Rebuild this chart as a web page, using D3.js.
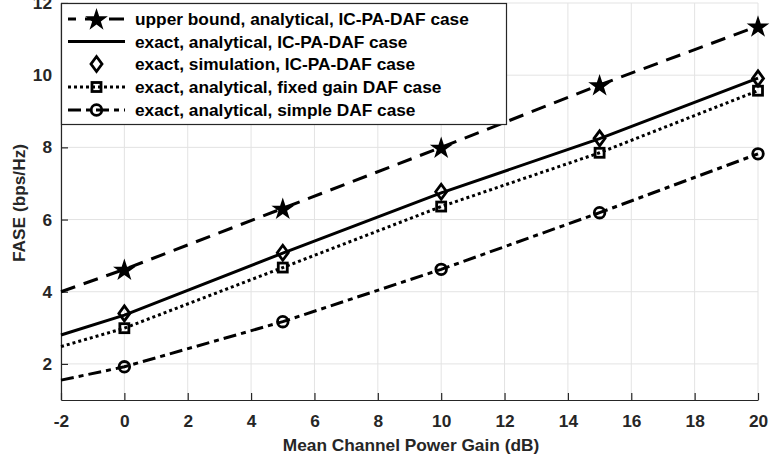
<!DOCTYPE html>
<html><head><meta charset="utf-8">
<script src="https://cdn.jsdelivr.net/npm/d3@7"></script>
<style>body{margin:0;background:#fff}svg{display:block}</style>
</head><body><svg id="c" width="771" height="463"></svg>
<script>
const xTicks = [-2,0,2,4,6,8,10,12,14,16,18,20];
const yTicks = [2,4,6,8,10,12];
const lineX = [-2,0,5,10,15,20];
const markX = [0,5,10,15,20];
const upperLine = [4.0,4.62,6.31,8.0,9.73,11.36];
const exactLine = [2.80,3.35,5.07,6.74,8.24,9.92];
const simMarks = [3.40,5.08,6.77,8.25,9.91];
const fixedLine = [2.48,2.99,4.67,6.36,7.85,9.57];
const simpleLine = [1.55,1.92,3.17,4.62,6.19,7.82];
const legendLabels = ["upper bound, analytical, IC-PA-DAF case","exact, analytical, IC-PA-DAF case","exact, simulation, IC-PA-DAF case","exact, analytical, fixed gain DAF case","exact, analytical, simple DAF case"];

const FONT = "Liberation Sans";
const FS = 17.3;
const svg = d3.select("#c");
const x = d3.scaleLinear().domain([-2,20]).range([61,758]);
const y = d3.scaleLinear().domain([1,12]).range([400,3]);
const axc = "#262626";

// grid
svg.append("g").selectAll("line").data(xTicks).join("line")
  .attr("x1",d=>x(d)).attr("x2",d=>x(d)).attr("y1",y(1)).attr("y2",y(12))
  .attr("stroke","#e3e3e3").attr("stroke-width",1);
svg.append("g").selectAll("line").data(yTicks).join("line")
  .attr("x1",x(-2)).attr("x2",x(20)).attr("y1",d=>y(d)).attr("y2",d=>y(d))
  .attr("stroke","#e3e3e3").attr("stroke-width",1);

// axes
const fmt = d => String(d);
const xa = svg.append("g").attr("transform",`translate(0,${y(1)})`)
  .call(d3.axisBottom(x).tickValues(xTicks).tickSizeInner(-7).tickSizeOuter(0).tickPadding(15).tickFormat(fmt));
const ya = svg.append("g").attr("transform",`translate(${x(-2)},0)`)
  .call(d3.axisLeft(y).tickValues(yTicks).tickSizeInner(-7).tickSizeOuter(0).tickPadding(9).tickFormat(fmt));
[xa,ya].forEach(a=>{
  a.attr("font-family",FONT).attr("font-size",FS).attr("font-weight","bold");
  a.select(".domain").attr("stroke",axc).attr("stroke-width",1.2);
  a.selectAll(".tick line").attr("stroke",axc).attr("stroke-width",1.2);
  a.selectAll(".tick text").attr("fill",axc);
});

svg.append("text").attr("x",411).attr("y",451).attr("text-anchor","middle")
  .attr("font-family",FONT).attr("font-size",FS).attr("font-weight","bold")
  .attr("fill",axc).text("Mean Channel Power Gain (dB)");
svg.append("text").attr("transform","translate(25,203) rotate(-90)").attr("text-anchor","middle")
  .attr("font-family",FONT).attr("font-size",FS).attr("font-weight","bold")
  .attr("fill",axc).text("FASE (bps/Hz)");

// markers
const starPath = d3.symbol(d3.symbolStar, 160)();
function drawMarker(g, type, cx, cy){
  if(type==="star") g.append("path").attr("d",starPath).attr("transform",`translate(${cx},${cy+1})`).attr("fill","#000");
  else if(type==="diamond") g.append("path").attr("d",`M0,-7.5L5.5,0L0,7.5L-5.5,0Z`).attr("transform",`translate(${cx},${cy})`).attr("fill","none").attr("stroke","#000").attr("stroke-width",2.8);
  else if(type==="square") g.append("rect").attr("x",cx-4.5).attr("y",cy-4.5).attr("width",9).attr("height",9).attr("fill","none").attr("stroke","#000").attr("stroke-width",2.8);
  else if(type==="circle") g.append("circle").attr("cx",cx).attr("cy",cy).attr("r",5.3).attr("fill","none").attr("stroke","#000").attr("stroke-width",2.8);
}

const series = [
  {line:upperLine, dash:"15,9", marks:upperLine.slice(1), mtype:"star"},
  {line:exactLine, dash:null, marks:null, mtype:null},
  {line:null, dash:null, marks:simMarks, mtype:"diamond"},
  {line:fixedLine, dash:"3,3", marks:fixedLine.slice(1), mtype:"square"},
  {line:simpleLine, dash:"13,5,5,5", marks:simpleLine.slice(1), mtype:"circle"}
];
const lineGen = d3.line().x(d=>x(d[0])).y(d=>y(d[1]));
const plot = svg.append("g");
series.forEach(s=>{
  if(s.line){
    plot.append("path").attr("d",lineGen(lineX.map((xx,i)=>[xx,s.line[i]])))
      .attr("fill","none").attr("stroke","#000").attr("stroke-width",3)
      .attr("stroke-dasharray",s.dash);
  }
});
series.forEach(s=>{
  if(s.marks) s.marks.forEach((v,i)=>drawMarker(plot,s.mtype,x(markX[i]),y(v)));
});

// legend
const lg = svg.append("g");
lg.append("rect").attr("x",61.5).attr("y",3.5).attr("width",445).attr("height",121)
  .attr("fill","#fff").attr("stroke",axc).attr("stroke-width",1.2);
const rowY = [19,41.5,64,87,110];
series.forEach((s,i)=>{
  const cy = rowY[i];
  if(s.line){
    lg.append("line").attr("x1",68).attr("x2",125).attr("y1",cy).attr("y2",cy)
      .attr("stroke","#000").attr("stroke-width",3).attr("stroke-dasharray",s.dash)
      .attr("stroke-dashoffset", s.dash==="15,9"? 7 : 0);
  }
  if(s.mtype) drawMarker(lg,s.mtype,96.5,cy);
  lg.append("text").attr("x",135).attr("y",cy).attr("dy","0.36em").attr("fill","#000")
    .attr("font-family",FONT).attr("font-size",FS).attr("font-weight","bold").text(legendLabels[i]);
});
</script></body></html>
